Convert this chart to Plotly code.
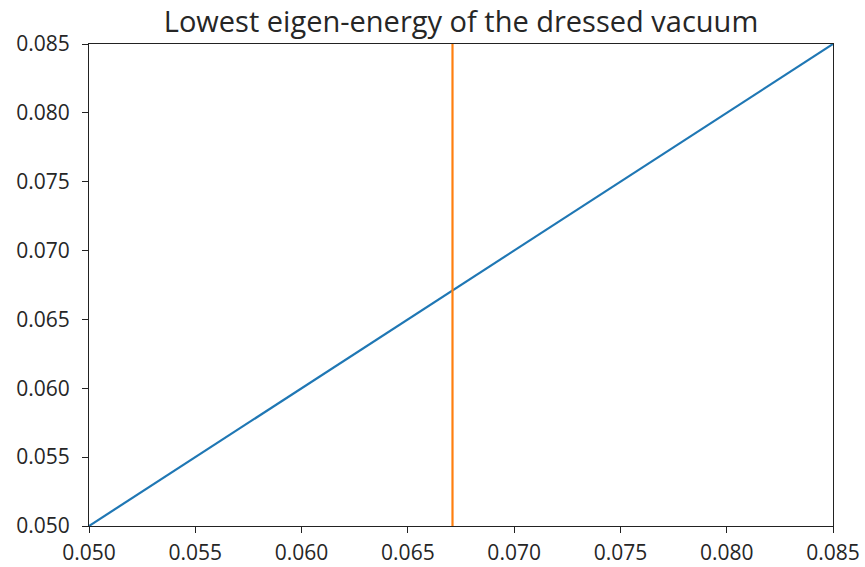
import plotly.graph_objects as go

# Data
energy_x = [0.05, 0.085]
energy_y = [0.05, 0.085]
marker_x = [0.0671, 0.0671]
marker_y = [0.05, 0.085]
tick_vals = [0.050, 0.055, 0.060, 0.065, 0.070, 0.075, 0.080, 0.085]
tick_text = ["0.050", "0.055", "0.060", "0.065", "0.070", "0.075", "0.080", "0.085"]
title_text = "Lowest eigen-energy of the dressed vacuum"

fig = go.Figure()
fig.add_trace(go.Scatter(x=energy_x, y=energy_y, mode="lines",
                         line=dict(color="#1f77b4", width=2.2), showlegend=False))
fig.add_trace(go.Scatter(x=marker_x, y=marker_y, mode="lines",
                         line=dict(color="#ff7f0e", width=2.2), showlegend=False))

axis_common = dict(
    range=[0.05, 0.085], tickvals=tick_vals, ticktext=tick_text,
    showgrid=False, zeroline=False, showline=True, linecolor="#222",
    linewidth=1.2, mirror=True, ticks="outside", ticklen=6, tickwidth=1.2,
    tickcolor="#222", automargin=False,
    tickfont=dict(family="Open Sans", size=21, color="#262626"),
)
fig.update_xaxes(**axis_common, ticklabelstandoff=2)
fig.update_yaxes(**axis_common, ticklabelstandoff=8)

fig.update_layout(
    width=865, height=567,
    margin=dict(l=89, r=32, t=44, b=41),
    paper_bgcolor="white", plot_bgcolor="white",
    title=dict(text=title_text, x=(89 + 833) / 2 / 865, xanchor="center",
               y=1 - 22 / 567, yanchor="middle",
               font=dict(family="Open Sans", size=29, color="#262626")),
)
fig.write_html("out.html")
